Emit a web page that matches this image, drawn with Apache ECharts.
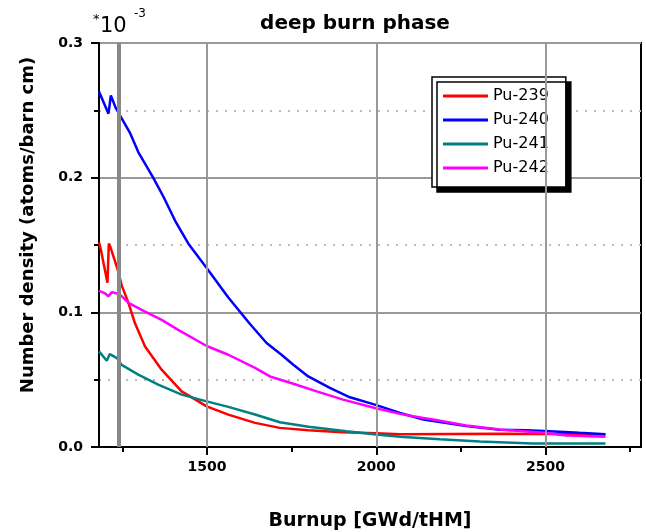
<!DOCTYPE html>
<html>
<head>
<meta charset="utf-8">
<script src="https://cdn.jsdelivr.net/npm/echarts@6/dist/echarts.min.js"></script>
<style>
  html, body { margin: 0; padding: 0; background: #fff; }
  #chart { width: 646px; height: 532px; }
</style>
</head>
<body>
<div id="chart"></div>
<script>
// burnup values (GWd/tHM) and number densities (*10^-3 atoms/barn cm)
var pu239X = [1181, 1187, 1206, 1210, 1214, 1236, 1248, 1268, 1287, 1317, 1366, 1425, 1450, 1499, 1563, 1642, 1715, 1800, 1900, 2000, 2070, 2365, 2677];
var pu239Y = [0.152, 0.146, 0.122, 0.151, 0.149, 0.132, 0.120, 0.107, 0.092, 0.0747, 0.0574, 0.0413, 0.0376, 0.0302, 0.024, 0.0179, 0.0142, 0.0125, 0.0110, 0.0102, 0.0095, 0.0098, 0.0095];

var pu240X = [1181, 1209, 1216, 1230, 1248, 1273, 1297, 1341, 1371, 1406, 1445, 1499, 1563, 1627, 1676, 1720, 1755, 1799, 1863, 1922, 1996, 2070, 2139, 2266, 2365, 2444, 2512, 2600, 2677];
var pu240Y = [0.264, 0.2475, 0.261, 0.252, 0.244, 0.233, 0.219, 0.200, 0.186, 0.168, 0.151, 0.133, 0.111, 0.0913, 0.0772, 0.0685, 0.0611, 0.0524, 0.0439, 0.0369, 0.0315, 0.0253, 0.0204, 0.0155, 0.0128, 0.0124, 0.0117, 0.0105, 0.0095];

var pu241X = [1181, 1204, 1213, 1234, 1248, 1297, 1356, 1425, 1499, 1563, 1642, 1715, 1800, 1912, 2000, 2070, 2188, 2306, 2462, 2677];
var pu241Y = [0.071, 0.064, 0.069, 0.066, 0.061, 0.0537, 0.0463, 0.0389, 0.0339, 0.0298, 0.0241, 0.0184, 0.0150, 0.0117, 0.0093, 0.0076, 0.0058, 0.0041, 0.0026, 0.0026];

var pu242X = [1181, 1199, 1209, 1219, 1234, 1248, 1268, 1317, 1366, 1415, 1499, 1563, 1642, 1686, 1755, 1824, 1902, 1996, 2070, 2139, 2168, 2266, 2365, 2493, 2562, 2677];
var pu242Y = [0.116, 0.114, 0.112, 0.115, 0.114, 0.112, 0.107, 0.1006, 0.0944, 0.087, 0.075, 0.0685, 0.0587, 0.0524, 0.047, 0.0413, 0.0352, 0.029, 0.0246, 0.0216, 0.0204, 0.016, 0.013, 0.0105, 0.0085, 0.0077];

var majorTicksX = [1500, 2000, 2500];
var minorTicksX = [1250, 1750, 2250, 2750];
var phaseLineX = 1240;

var font = '"DejaVu Sans", Verdana, sans-serif';

function zip(xs, ys) {
    var out = [];
    for (var i = 0; i < xs.length; i++) {
        out.push([xs[i], ys[i]]);
    }
    return out;
}

function curve(name, color, xs, ys) {
    return {
        name: name,
        type: 'line',
        symbol: 'none',
        z: 3,
        lineStyle: {color: color, width: 2.5},
        itemStyle: {color: color},
        data: zip(xs, ys)
    };
}

var chart = echarts.init(document.getElementById('chart'));

var option = {
    animation: false,
    backgroundColor: '#fff',
    grid: {
        left: 99, right: 5, top: 43, bottom: 85,
        show: true, borderColor: '#000', borderWidth: 2
    },
    legend: {
        orient: 'vertical',
        left: 432, top: 77,
        padding: [11, 17, 11, 11],
        icon: 'rect',
        itemWidth: 45, itemHeight: 3, itemGap: 8,
        backgroundColor: '#fff',
        borderColor: '#000', borderWidth: 1.5,
        shadowColor: '#000', shadowBlur: 0, shadowOffsetX: 5, shadowOffsetY: 5,
        textStyle: {fontFamily: font, fontSize: 16, color: '#000', lineHeight: 16},
        data: ['Pu-239', 'Pu-240', 'Pu-241', 'Pu-242']
    },
    xAxis: [{
        type: 'value', min: 1181, max: 2782,
        axisLine: {lineStyle: {color: '#000', width: 2}},
        axisTick: {customValues: majorTicksX, length: 8, lineStyle: {color: '#000', width: 2}},
        axisLabel: {
            customValues: majorTicksX, margin: 13, color: '#000',
            fontFamily: font, fontWeight: 'bold', fontSize: 14,
            formatter: function (v) { return String(v); }
        },
        splitLine: {show: false}
    }, {
        type: 'value', min: 1181, max: 2782, position: 'bottom',
        axisLine: {show: false},
        axisTick: {customValues: minorTicksX, length: 5, lineStyle: {color: '#000', width: 2}},
        axisLabel: {show: false},
        splitLine: {show: false}
    }],
    yAxis: {
        type: 'value', min: 0, max: 0.3, interval: 0.1,
        axisLine: {lineStyle: {color: '#000', width: 2}},
        axisTick: {length: 8, lineStyle: {color: '#000', width: 2}},
        minorTick: {show: true, splitNumber: 2, length: 5, lineStyle: {color: '#000', width: 2}},
        axisLabel: {
            margin: 16, color: '#000', fontFamily: font, fontWeight: 'bold', fontSize: 14,
            formatter: function (v) { return v.toFixed(1); }
        },
        splitLine: {lineStyle: {color: '#999', width: 2}},
        minorSplitLine: {show: true, lineStyle: {color: '#bbb', width: 2, type: [2, 7]}}
    },
    series: [{
        // vertical grid lines
        type: 'line', data: [], z: 1, silent: true,
        markLine: {
            symbol: 'none', silent: true, animation: false,
            label: {show: false},
            lineStyle: {color: '#999', width: 2, type: 'solid'},
            data: majorTicksX.map(function (v) { return {xAxis: v}; })
        }
    },
        curve('Pu-239', '#ff0000', pu239X, pu239Y),
        curve('Pu-240', '#0000ff', pu240X, pu240Y),
        curve('Pu-241', '#008080', pu241X, pu241Y),
        curve('Pu-242', '#ff00ff', pu242X, pu242Y),
    {
        // start of deep burn phase
        type: 'line', data: [], z: 5, silent: true,
        markLine: {
            symbol: 'none', silent: true, animation: false,
            label: {show: false},
            lineStyle: {color: '#888', width: 4, type: 'solid'},
            data: [{xAxis: phaseLineX}]
        }
    }],
    graphic: [
        {type: 'text', x: 355, y: 24, style: {text: 'deep burn phase', fontFamily: font, fontWeight: 'bold', fontSize: 20, fill: '#000', align: 'center', verticalAlign: 'middle'}},
        {type: 'text', left: 93, top: 13, style: {text: '*', fontFamily: font, fontSize: 13, fill: '#000'}},
        {type: 'text', left: 100, top: 16, style: {text: '10', fontFamily: font, fontSize: 21, fill: '#000'}},
        {type: 'text', left: 134, top: 8, style: {text: '-3', fontFamily: font, fontSize: 12, fill: '#000'}},
        {type: 'text', x: 28, y: 225, rotation: Math.PI / 2,
            style: {text: 'Number density (atoms/barn cm)', fontFamily: font, fontWeight: 'bold', fontSize: 18, fill: '#000', align: 'center', verticalAlign: 'middle'}},
        {type: 'text', x: 370, y: 521,
            style: {text: 'Burnup [GWd/tHM]', fontFamily: font, fontWeight: 'bold', fontSize: 19, fill: '#000', align: 'center', verticalAlign: 'middle'}}
    ]
};

chart.setOption(option);
</script>
</body>
</html>
